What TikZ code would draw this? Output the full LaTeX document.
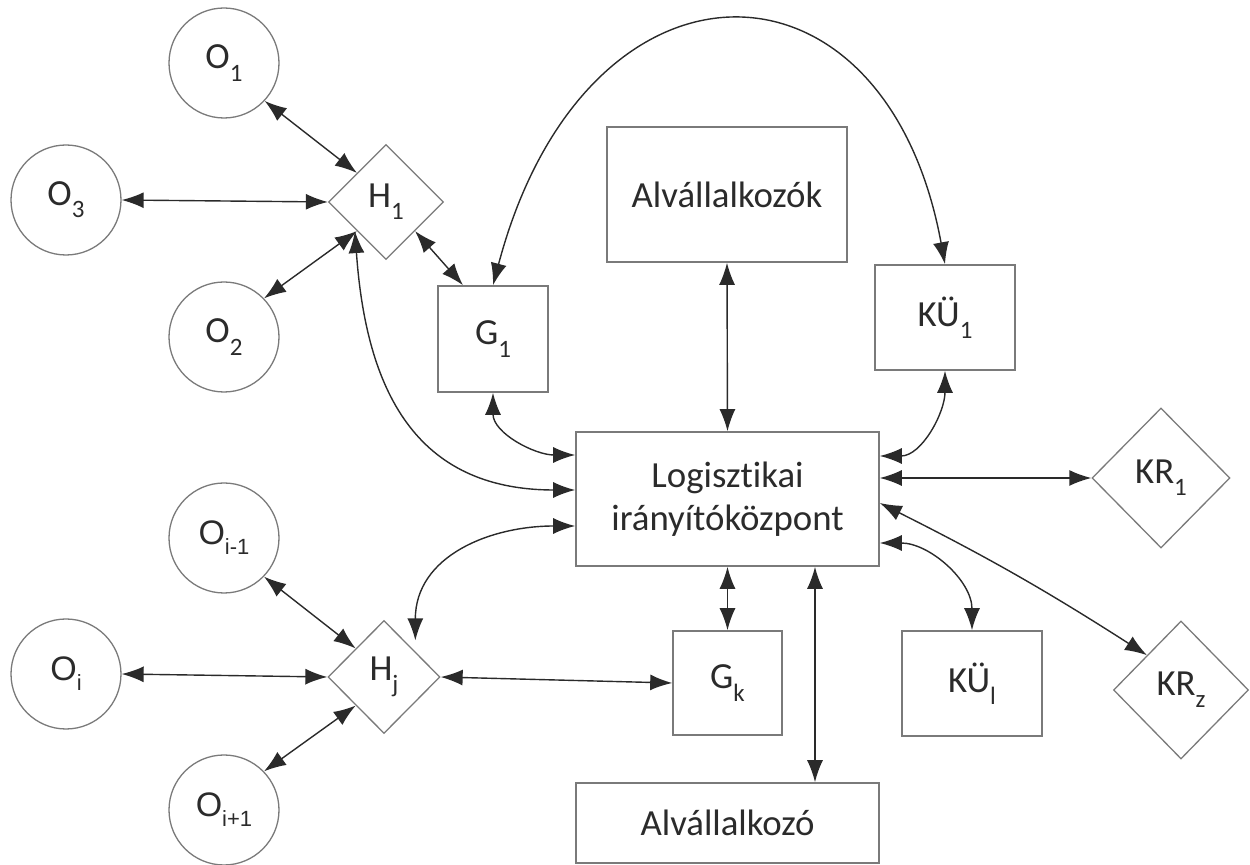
\documentclass[tikz,border=0pt]{standalone}
\usepackage{fontspec}
\setmainfont{Carlito}[Ligatures=NoCommon]
\newfontfamily\arialf{Liberation Sans}
\usetikzlibrary{arrows.meta,shapes.geometric}
\definecolor{bordergray}{HTML}{7A7A7A}
\definecolor{linegray}{HTML}{2A2A2A}
\definecolor{txt}{HTML}{2B2B2B}
\newcommand\sbx[1]{\raisebox{-0.33em}{\fontsize{12.5}{12.5}\selectfont #1}}
\begin{document}
\begin{tikzpicture}[x=0.5pt,y=-0.5pt,
  font=\fontsize{18.4}{21.5}\selectfont, text=txt,
  box/.style={draw=bordergray, line width=0.8pt, rectangle, inner sep=0pt, align=center},
  circ/.style={draw=bordergray, line width=0.65pt, circle, minimum size=55pt, inner sep=0pt},
  dia/.style={draw=bordergray, line width=0.65pt, diamond, inner sep=0pt},
  link/.style={{Latex[length=11pt,width=8pt]}-{Latex[length=11pt,width=8pt]}, draw=linegray, line width=0.7pt}]
\useasboundingbox (0,0) rectangle (1250,865);

% circles
\node[circ] (O1) at (224,63) {O\sbx{1}};
\node[circ] (O3) at (66,200) {O\sbx{3}};
\node[circ] (O2) at (224,337) {O\sbx{2}};
\node[circ, font=\arialf\fontsize{17}{20}\selectfont] (Oim) at (224,538) {O\raisebox{-0.3em}{\fontsize{11}{11}\selectfont i-1}};
\node[circ, font=\arialf\fontsize{17}{20}\selectfont] (Oi) at (66,674) {O\raisebox{-0.3em}{\fontsize{11}{11}\selectfont i}};
\node[circ, font=\arialf\fontsize{17}{20}\selectfont] (Oip) at (224,810) {O\raisebox{-0.3em}{\fontsize{11}{11}\selectfont i+1}};

% diamonds
\node[dia, minimum width=57.5pt, minimum height=57.5pt] (H1) at (386,202) {H\sbx{1}};
\node[dia, minimum width=56pt, minimum height=56.5pt] (Hj) at (384,677) {H\sbx{j}};
\node[dia, minimum width=69pt, minimum height=70pt] (KR1) at (1161,478) {KR\sbx{1}};
\node[dia, minimum width=67.5pt, minimum height=69pt] (KRz) at (1181,690) {KR\sbx{z}};

% boxes
\node[box, minimum width=55pt, minimum height=53pt] (G1) at (493,339) {G\sbx{1}};
\node[box, minimum width=120pt, minimum height=67.5pt] (A1) at (727,194.5) {Alvállalkozók};
\node[box, minimum width=70pt, minimum height=52.5pt] (KU1) at (945,317.5) {KÜ\sbx{1}};
\node[box, minimum width=151.5pt, minimum height=67pt] (L) at (727.5,499) {Logisztikai\\irányítóközpont};
\node[box, minimum width=54.5pt, minimum height=52pt] (Gk) at (727.5,683) {G\sbx{k}};
\node[box, minimum width=70pt, minimum height=52.5pt] (KUl) at (972,683.5) {KÜ\sbx{l}};
\node[box, minimum width=151.5pt, minimum height=40pt] (A2) at (727.5,823) {Alvállalkozó};

% links around H1
\draw[link] (O1.-43) -- (H1.north west);
\draw[link] (O3.east) -- (H1.west);
\draw[link] (O2.44) -- (H1.south west);
\draw[link] (H1.south east) -- ([xshift=-15pt]G1.north);
\draw[link] ([yshift=4.5pt]L.west) to[out=180, in=-86, looseness=1.2] ([xshift=-1pt]H1.south west);

% links around Hj
\draw[link] (Oim.-44) -- (Hj.north west);
\draw[link] (Oi.east) -- (Hj.west);
\draw[link] (Oip.44) -- (Hj.south west);
\draw[link] (Hj.east) -- (Gk.west);
\draw[link] ([yshift=-13.5pt]L.west) to[out=180, in=90, looseness=1.1] ([xshift=1.5pt,yshift=4pt]Hj.north east);

% G1, KU1
\draw[link] (G1.south) to[out=-90, in=180] ([yshift=22pt]L.west);
\draw[link] (G1.north) .. controls (585,-62) and (885,-62) .. (KU1.north);
\draw[link] (KU1.south) to[out=-90, in=0] ([yshift=21.5pt]L.east);

% vertical links
\draw[link] (A1.south) -- (L.north);
\draw[link] (L.south) -- (Gk.north);
\draw[link] ([xshift=43.75pt]L.south) -- ([xshift=43.75pt]A2.north);

% right side
\draw[link] ([yshift=10.5pt]L.east) -- (KR1.west);
\draw[link] ([yshift=-2pt]L.east) to[bend left=3] (KRz.north west);
\draw[link] ([yshift=-22pt]L.east) to[out=0, in=90] (KUl.north);
\end{tikzpicture}
\end{document}
